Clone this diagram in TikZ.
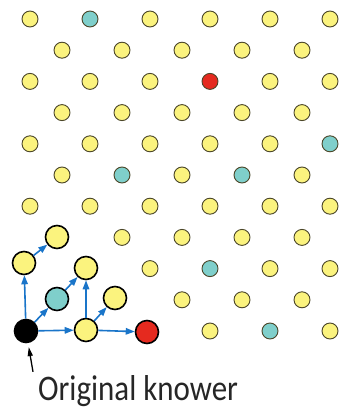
\documentclass[tikz,border=0pt]{standalone}
\usepackage{fontspec}
\setmainfont{Carlito}
\usetikzlibrary{arrows.meta}

\definecolor{dotyellow}{HTML}{FBF37E}
\definecolor{dotteal}{HTML}{7FCFCB}
\definecolor{dotred}{HTML}{E52A1F}
\definecolor{dotrim}{HTML}{4A4528}
\definecolor{spreadblue}{HTML}{1A75C9}

\begin{document}
\begin{tikzpicture}[x=1pt,y=-1pt]

  \tikzstyle{dot}=[circle,draw=dotrim,line width=0.9pt,inner sep=0pt,minimum size=16pt]
\tikzstyle{bigdot}=[circle,draw=black,line width=1.6pt,inner sep=0pt,minimum size=23pt]
\tikzstyle{yel}=[fill=dotyellow]
\tikzstyle{tea}=[fill=dotteal]
\tikzstyle{rd}=[fill=dotred]
\tikzstyle{spread}=[draw=spreadblue,line width=1.6pt,-{Triangle[length=9pt,width=6.5pt]}]
\tikzstyle{pointer}=[line width=1.3pt,shorten >=4pt,-{Triangle[length=9pt,width=5pt]}]

  \useasboundingbox (0,0) rectangle (355,410);

  % ====================
  % Parameters
  % ====================
  \def\rowtop{19}   % Height of the first row
  \def\rowh{31.2}   % Spacing of the rows
  % ====================


  % ====================
  % Crowd
  % ====================
  \foreach \r/\cells in {
    0/{30/yel,90/tea,150/yel,210/yel,270/yel,330/yel},
    1/{62/yel,122/yel,182/yel,242/yel,302/yel},
    2/{30/yel,90/yel,150/yel,210/rd,270/yel,330/yel},
    3/{62/yel,122/yel,182/yel,242/yel,302/yel},
    4/{30/yel,90/yel,150/yel,210/yel,270/yel,330/tea},
    5/{62/yel,122/tea,182/yel,242/tea,302/yel},
    6/{30/yel,90/yel,150/yel,210/yel,270/yel,330/yel},
    7/{122/yel,182/yel,242/yel,302/yel},
    8/{150/yel,210/tea,270/yel,330/yel},
    9/{182/yel,242/yel,302/yel},
    10/{210/yel,270/tea,330/yel}}
  {
    \foreach \x/\clr in \cells
      \node (p-\r-\x) [dot,\clr] at (\x,\rowtop+\rowh*\r) {};
  }

  % ====================
  % Spreading
  % ====================
  \node (knower) [bigdot,fill=black] at (26,331) {};
  \node (b1) [bigdot,yel] at (86,330) {};
  \node (b2) [bigdot,rd] at (147,332) {};
  \node (c1) [bigdot,tea] at (57,299) {};
  \node (c2) [bigdot,yel] at (115,298) {};
  \node (d1) [bigdot,yel] at (86,268) {};
  \node (d2) [bigdot,yel] at (24,263) {};
  \node (e1) [bigdot,yel] at (57,237) {};

  \draw[spread] (knower) -- (b1);
  \draw[spread] (b1) -- (b2);
  \draw[spread] (knower) -- (d2);
  \draw[spread] (knower) -- (c1);
  \draw[spread] (c1) -- (d1);
  \draw[spread] (b1) -- (d1);
  \draw[spread] (b1) -- (c2);
  \draw[spread] (d2) -- (e1);

  % Legend
  \node (label) [anchor=base west,inner sep=0pt,xscale=0.86,text=black!85,font=\fontsize{36}{38}\selectfont] at (38,400) {Original knower};
  \draw[pointer] ([xshift=-5pt,yshift=3pt]label.north west) -- (knower);
\end{tikzpicture}
\end{document}
